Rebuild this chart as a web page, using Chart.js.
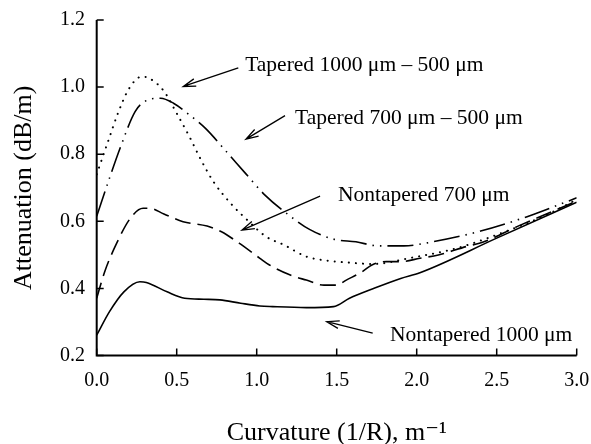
<!DOCTYPE html>
<html>
<head>
<meta charset="utf-8">
<script src="https://cdn.jsdelivr.net/npm/chart.js@4/dist/chart.umd.min.js"></script>
<style>
  html, body { margin: 0; padding: 0; background: #fff; }
  #wrap { width: 591px; height: 444px; position: relative; }
</style>
</head>
<body>
<div id="wrap"><canvas id="c" width="591" height="444"></canvas></div>
<script>
// ---- data ----
const xTicks = [0.0, 0.5, 1.0, 1.5, 2.0, 2.5, 3.0];
const yTicks = [0.2, 0.4, 0.6, 0.8, 1.0, 1.2];

const non1000X = [0, 0.08, 0.17, 0.27, 0.31, 0.44, 0.55, 0.67, 0.77, 0.9, 1.02, 1.1, 1.31, 1.48, 1.58, 1.73, 1.9, 2.02, 2.5, 3.0];
const non1000Y = [0.261, 0.331, 0.39, 0.42, 0.418, 0.39, 0.371, 0.368, 0.366, 0.356, 0.348, 0.346, 0.343, 0.346, 0.371, 0.40, 0.43, 0.447, 0.55, 0.657];

const non700X = [0, 0.05, 0.125, 0.21, 0.29, 0.33, 0.42, 0.54, 0.69, 0.78, 0.89, 1.02, 1.08, 1.21, 1.31, 1.42, 1.5, 1.56, 1.66, 1.72, 1.81, 1.9, 2.02, 2.135, 2.31, 2.42, 2.63, 3.0];
const non700Y = [0.371, 0.45, 0.535, 0.609, 0.639, 0.639, 0.622, 0.599, 0.586, 0.569, 0.535, 0.49, 0.47, 0.44, 0.425, 0.41, 0.41, 0.425, 0.45, 0.47, 0.48, 0.48, 0.49, 0.50, 0.525, 0.539, 0.585, 0.66];

const tap1000X = [0, 0.07, 0.135, 0.2, 0.28, 0.33, 0.42, 0.5, 0.58, 0.65, 0.73, 0.84, 0.93, 1.06, 1.17, 1.31, 1.44, 1.58, 1.73, 1.95, 2.25, 2.46, 2.81, 3.0];
const tap1000Y = [0.74, 0.837, 0.925, 0.994, 1.031, 1.026, 0.988, 0.922, 0.852, 0.785, 0.718, 0.652, 0.609, 0.554, 0.53, 0.495, 0.483, 0.477, 0.473, 0.49, 0.52, 0.553, 0.619, 0.665];

const tap700X = [0, 0.083, 0.146, 0.24, 0.3, 0.4, 0.48, 0.58, 0.68, 0.81, 0.93, 1.05, 1.2, 1.33, 1.48, 1.62, 1.76, 1.92, 2.1, 2.4, 2.69, 3.0];
const tap700Y = [0.615, 0.733, 0.818, 0.927, 0.957, 0.967, 0.952, 0.917, 0.877, 0.808, 0.743, 0.679, 0.619, 0.576, 0.547, 0.539, 0.527, 0.527, 0.539, 0.571, 0.614, 0.67];

const seriesNames = ['Nontapered 1000 \u03bcm', 'Nontapered 700 \u03bcm', 'Tapered 1000 \u03bcm \u2013 500 \u03bcm', 'Tapered 700 \u03bcm \u2013 500 \u03bcm'];

// annotation labels: [text, textX, textY, tailX, tailY, tipX, tipY] in data units
const notes = [
  [seriesNames[2], 0.928, 1.066, 0.885, 1.057, 0.541, 1.002],
  [seriesNames[3], 1.24, 0.908, 1.177, 0.915, 0.933, 0.845],
  [seriesNames[1], 1.508, 0.678, 1.396, 0.675, 0.908, 0.574],
  [seriesNames[0], 1.833, 0.261, 1.725, 0.267, 1.438, 0.301]
];

const pts = (xs, ys) => xs.map((x, i) => ({x: x, y: ys[i]}));
const SERIF = "'Liberation Serif', 'DejaVu Serif', serif";

const axesPlugin = {
  id: 'axesDeco',
  afterDraw(chart) {
    const ctx = chart.ctx;
    const xs = chart.scales.x, ys = chart.scales.y;
    const a = chart.chartArea;
    ctx.save();
    ctx.strokeStyle = '#000';
    ctx.lineWidth = 2;
    ctx.beginPath();
    ctx.moveTo(a.left, a.top);
    ctx.lineTo(a.left, a.bottom);
    ctx.lineTo(a.right, a.bottom);
    ctx.stroke();
    ctx.lineWidth = 1.5;
    ctx.beginPath();
    xTicks.forEach(v => {
      const p = xs.getPixelForValue(v);
      ctx.moveTo(p, a.bottom);
      ctx.lineTo(p, a.bottom - 7);
    });
    yTicks.forEach(v => {
      const p = ys.getPixelForValue(v);
      ctx.moveTo(a.left, p);
      ctx.lineTo(a.left + 7, p);
    });
    ctx.stroke();

    // annotations with arrows
    ctx.fillStyle = '#000';
    ctx.font = '21.5px ' + SERIF;
    ctx.textBaseline = 'middle';
    ctx.textAlign = 'left';
    ctx.lineWidth = 1.3;
    notes.forEach(n => {
      ctx.fillText(n[0], xs.getPixelForValue(n[1]), ys.getPixelForValue(n[2]));
      const x1 = xs.getPixelForValue(n[3]), y1 = ys.getPixelForValue(n[4]);
      const x2 = xs.getPixelForValue(n[5]), y2 = ys.getPixelForValue(n[6]);
      const ang = Math.atan2(y2 - y1, x2 - x1);
      const L = 13, spread = 0.3;
      ctx.beginPath();
      ctx.moveTo(x1, y1);
      ctx.lineTo(x2, y2);
      ctx.moveTo(x2 - L * Math.cos(ang - spread), y2 - L * Math.sin(ang - spread));
      ctx.lineTo(x2, y2);
      ctx.lineTo(x2 - L * Math.cos(ang + spread), y2 - L * Math.sin(ang + spread));
      ctx.stroke();
    });
    ctx.restore();
  }
};

new Chart(document.getElementById('c'), {
  type: 'line',
  data: {
    datasets: [
      { label: seriesNames[0], data: pts(non1000X, non1000Y), borderColor: '#000', borderWidth: 1.6, cubicInterpolationMode: 'monotone' },
      { label: seriesNames[1], data: pts(non700X, non700Y), borderColor: '#000', borderWidth: 1.6, borderDash: [16, 7], cubicInterpolationMode: 'monotone' },
      { label: seriesNames[2], data: pts(tap1000X, tap1000Y), borderColor: '#000', borderWidth: 2, borderDash: [0.1, 7], borderCapStyle: 'round', cubicInterpolationMode: 'monotone' },
      { label: seriesNames[3], data: pts(tap700X, tap700Y), borderColor: '#000', borderWidth: 1.6, borderDash: [26, 6, 1.5, 6, 1.5, 6], cubicInterpolationMode: 'monotone' }
    ]
  },
  options: {
    responsive: false,
    animation: false,
    events: [],
    elements: { point: { radius: 0 }, line: { fill: false } },
    layout: { padding: { left: 0, right: 14.3, top: 20, bottom: 0 } },
    plugins: { legend: { display: false }, tooltip: { enabled: false } },
    scales: {
      x: {
        type: 'linear', min: 0, max: 3,
        afterFit(s) { s.height = 88.4; s.paddingLeft = 0; s.paddingRight = 0; },
        afterBuildTicks(s) { s.ticks = xTicks.map(v => ({value: v})); },
        grid: { display: false, drawTicks: false },
        border: { display: false },
        ticks: { color: '#000', font: { family: SERIF, size: 20 }, padding: 13, maxRotation: 0,
                 callback: v => Number(v).toFixed(1) },
        title: { display: true, text: 'Curvature (1/R), m\u207B\u00B9', color: '#000',
                 font: { family: SERIF, size: 26, lineHeight: 1.2 }, padding: { top: 0, bottom: -5 } }
      },
      y: {
        type: 'linear', min: 0.2, max: 1.2,
        afterFit(s) { s.width = 96.7; s.paddingTop = 0; s.paddingBottom = 0; },
        afterBuildTicks(s) { s.ticks = yTicks.map(v => ({value: v})); },
        grid: { display: false, drawTicks: false },
        border: { display: false },
        ticks: { color: '#000', font: { family: SERIF, size: 20 }, padding: 11.7,
                 callback: v => Number(v).toFixed(1) },
        title: { display: true, text: 'Attenuation (dB/m)', color: '#000',
                 font: { family: SERIF, size: 26, lineHeight: 1.2 }, padding: { top: 8.6, bottom: 0 } }
      }
    }
  },
  plugins: [axesPlugin]
});
</script>
</body>
</html>
